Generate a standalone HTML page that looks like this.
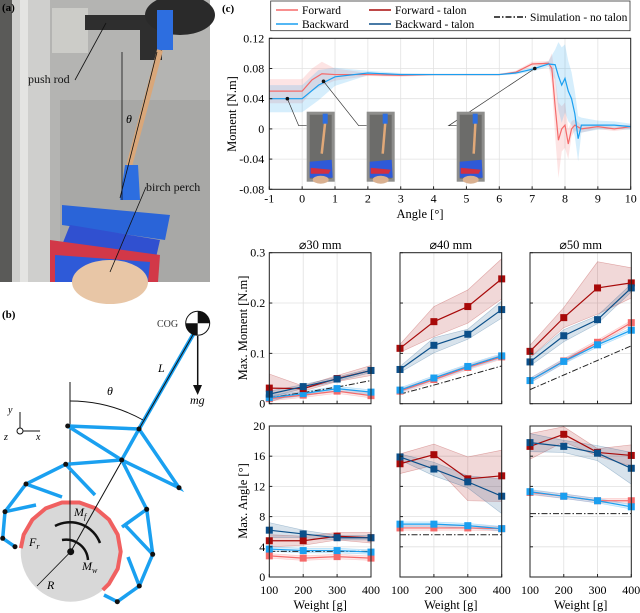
<!DOCTYPE html>
<html><head><meta charset="utf-8"><style>
html,body{margin:0;padding:0;background:#fff;}
svg{display:block;font-family:"Liberation Serif",serif;}
</style></head><body>
<svg id="fig" width="640" height="613" viewBox="0 0 640 613" xmlns="http://www.w3.org/2000/svg">
<!-- (a) photo approximation -->
<g>
<rect x="0" y="0" width="210" height="282" fill="#9c9c9a"/>
<rect x="50" y="0" width="160" height="282" fill="#b4b4b2"/>
<rect x="60" y="100" width="150" height="182" fill="#a8a8a6"/>
<rect x="0" y="0" width="12" height="282" fill="#5a5a58"/>
<rect x="12" y="0" width="38" height="282" fill="#cfcfcd"/>
<rect x="20" y="0" width="8" height="282" fill="#e4e4e2"/>
<rect x="52" y="8" width="36" height="45" fill="#ccccc8"/>
<rect x="85" y="15" width="70" height="15" fill="#2e2e2e"/>
<rect x="140" y="15" width="22" height="45" fill="#2e2e2e"/>
<ellipse cx="180" cy="15" rx="35" ry="20" fill="#2a2a2a"/>
<rect x="157" y="10" width="16" height="40" fill="#2d6ee0"/>
<line x1="160" y1="50" x2="128" y2="170" stroke="#d9a77a" stroke-width="6"/>
<path d="M125 165 L138 165 L140 200 L120 200 Z" fill="#2d6ee0"/>
<path d="M62 205 L170 215 L165 240 L62 225 Z" fill="#2a64d8"/>
<path d="M70 225 L160 240 L155 262 L60 250 Z" fill="#3050d0"/>
<path d="M50 240 L160 255 L158 282 L50 282 Z" fill="#d23848"/>
<path d="M55 255 L150 262 L148 282 L55 282 Z" fill="#2e5ad8"/>
<ellipse cx="110" cy="282" rx="38" ry="22" fill="#e8c6a6"/>
<line x1="122" y1="52" x2="122" y2="200" stroke="#111" stroke-width="0.8"/>
<line x1="157" y1="52" x2="120" y2="198" stroke="#111" stroke-width="0.8"/>
<text x="2" y="11" font-size="11" font-weight="bold">(a)</text>
<text x="28" y="83" font-size="12" fill="#111">push rod</text>
<line x1="75" y1="80" x2="106" y2="23" stroke="#111" stroke-width="0.8"/>
<text x="126" y="123" font-size="12" font-style="italic">θ</text>
<text x="146" y="191" font-size="12" fill="#111">birch perch</text>
<line x1="146" y1="187" x2="110" y2="272" stroke="#111" stroke-width="0.8"/>
</g>
<!-- (b) diagram -->
<g>
<text x="2" y="318" font-size="11" font-weight="bold">(b)</text>
<circle cx="70.7" cy="551.7" r="50" fill="#d8d8d8"/>
<polyline points="20.8,548.2 23.7,534.6 32.4,519.6 45.7,508.4 62.0,502.5 79.4,502.5 95.7,508.4 109.0,519.6 117.7,534.6 120.7,551.7 117.7,568.8 109.0,583.8 102.8,590.0" fill="none" stroke="#f06060" stroke-width="4" stroke-linejoin="round"/>
<line x1="70" y1="382" x2="70" y2="552" stroke="#111" stroke-width="1"/>
<line x1="70.7" y1="551.7" x2="194" y2="333" stroke="#111" stroke-width="1"/>
<line x1="139" y1="429" x2="194" y2="333" stroke="#1aa0f0" stroke-width="4"/>
<line x1="139" y1="429" x2="194" y2="333" stroke="#111" stroke-width="1"/>
<path d="M70 401 A150 150 0 0 1 143 420" fill="none" stroke="#111"/>
<g stroke="#1aa0f0" stroke-width="3.5" fill="none">
<polyline points="67.7,426 139,429 179,487.7 121.7,460 67.7,426"/>
<polyline points="139,429 121.7,460 65.7,464.3 26,484 5,511.7 2.7,538.3 15,546.7"/>
<polyline points="121.7,460 146.7,509.3 152.7,554.3 139.3,586 117.3,601.7"/>
<polyline points="26,484 62,497"/><polyline points="5,511.7 36,505"/>
<polyline points="65.7,464.3 95,495"/><polyline points="146.7,509.3 122,527"/>
<polyline points="152.7,554.3 125,525"/><polyline points="139.3,586 128,557"/>
<polyline points="117.3,601.7 104,595"/>
</g>
<g fill="#111">
<circle cx="67.7" cy="426" r="2.5"/><circle cx="139" cy="429" r="2.5"/><circle cx="121.7" cy="460" r="2.5"/><circle cx="65.7" cy="464.3" r="2.5"/><circle cx="179" cy="487.7" r="2.5"/><circle cx="26" cy="484" r="2.5"/><circle cx="146.7" cy="509.3" r="2.5"/><circle cx="5" cy="511.7" r="2.5"/><circle cx="152.7" cy="554.3" r="2.5"/><circle cx="2.7" cy="538.3" r="2.5"/><circle cx="15" cy="546.7" r="2.5"/><circle cx="139.3" cy="586" r="2.5"/><circle cx="117.3" cy="601.7" r="2.5"/><circle cx="70.7" cy="551.7" r="3.5"/>
</g>
<path d="M100 543 A32 32 0 0 0 55 526" fill="none" stroke="#111" stroke-width="2.5"/>
<path d="M62 540 A22 22 0 0 1 88 560" fill="none" stroke="#111" stroke-width="2.5"/>
<line x1="70.7" y1="551.7" x2="37" y2="586" stroke="#111" stroke-width="0.8"/>
<circle cx="197.7" cy="323.3" r="12" fill="#fff" stroke="#111"/>
<path d="M197.7 311.3 A12 12 0 0 1 209.7 323.3 L197.7 323.3Z M197.7 335.3 A12 12 0 0 1 185.7 323.3 L197.7 323.3Z" fill="#111"/>
<line x1="197.7" y1="336" x2="197.7" y2="392" stroke="#111" stroke-width="1.5"/>
<path d="M193 385 L202 385 L197.7 395Z" fill="#111"/>
<text x="157" y="327" font-size="10" fill="#333">COG</text>
<text x="158" y="372" font-size="12" font-style="italic">L</text>
<text x="107" y="395" font-size="12" font-style="italic">θ</text>
<text x="190" y="404" font-size="12" font-style="italic">mg</text>
<text x="74" y="516" font-size="12" font-style="italic">M<tspan font-size="8" dy="3">f</tspan></text>
<text x="29" y="546" font-size="12" font-style="italic">F<tspan font-size="8" dy="3">r</tspan></text>
<text x="82" y="570" font-size="12" font-style="italic">M<tspan font-size="8" dy="3">w</tspan></text>
<text x="47" y="589" font-size="12" font-style="italic">R</text>
<text x="8" y="413" font-size="10" font-style="italic">y</text><text x="4" y="440" font-size="10" font-style="italic">z</text><text x="36" y="440" font-size="10" font-style="italic">x</text>
<line x1="20" y1="431" x2="20" y2="412" stroke="#111"/><line x1="20" y1="431" x2="40" y2="431" stroke="#111"/>
<circle cx="20" cy="431" r="3" fill="#fff" stroke="#111"/>
</g>
<g id="chartc"></g>
<g id="small"></g>
</svg>
<script>
// ---- Top chart data ----
const fwdAngle = [-1,0,0.3,0.6,1,2,3,4,5,6,6.5,7,7.5,7.6,7.7,7.8,7.9,8.0,8.1,8.2,8.3,8.5,9,9.5,10];
const fwdMoment = [0.05,0.05,0.065,0.073,0.072,0.072,0.071,0.072,0.072,0.072,0.075,0.086,0.087,0.08,0.03,-0.015,0.0,0.005,-0.02,0.0,0.005,0.0,0.003,0.0,0.003];
const fwdSpread = [0.016,0.016,0.015,0.016,0.008,0.002,0.002,0.001,0.001,0.001,0.002,0.003,0.003,0.02,0.04,0.05,0.03,0.03,0.02,0.01,0.008,0.005,0.003,0.003,0.003];
const bwdAngle = [-1,0,0.5,1,2,3,4,5,6,6.5,7,7.5,7.7,7.8,7.9,8.0,8.1,8.2,8.3,8.4,8.5,9,9.5,10];
const bwdMoment = [0.04,0.04,0.058,0.069,0.074,0.072,0.072,0.072,0.072,0.074,0.079,0.086,0.085,0.07,0.058,0.067,0.05,0.04,0.02,-0.013,0.005,0.005,0.005,0.003];
const bwdSpread = [0.018,0.018,0.02,0.012,0.003,0.002,0.001,0.001,0.001,0.002,0.003,0.004,0.02,0.045,0.05,0.045,0.04,0.035,0.03,0.03,0.01,0.006,0.005,0.004];
const topXTicks = [-1,0,1,2,3,4,5,6,7,8,9,10];
const topYTicks = [-0.08,-0.04,0,0.04,0.08,0.12];
const topYLabels = ['-0.08','-0.04','0','0.04','0.08','0.12'];

// ---- Small multiples data ----
const weights = [100,200,300,400];
const panelTitles = ['⌀30 mm','⌀40 mm','⌀50 mm'];
const momentTicks = [0,0.1,0.2,0.3];
const angleTicks = [0,4,8,12,16,20];
const momFwd = [[0.010,0.017,0.025,0.016],[0.025,0.048,0.072,0.093],[0.046,0.085,0.122,0.161]];
const momBwd = [[0.012,0.020,0.030,0.023],[0.027,0.051,0.074,0.095],[0.046,0.084,0.117,0.146]];
const momFwdT = [[0.031,0.030,0.050,0.066],[0.110,0.163,0.193,0.248],[0.104,0.171,0.230,0.240]];
const momBwdT = [[0.019,0.034,0.049,0.066],[0.068,0.116,0.138,0.187],[0.083,0.135,0.167,0.230]];
const momSim = [[0.012,0.022,0.033,0.046],[0.019,0.037,0.056,0.075],[0.028,0.057,0.086,0.115]];
const momFwdTSpread = [[0.028,0.005,0.006,0.01],[0.008,0.03,0.033,0.04],[0.012,0.02,0.052,0.03]];
const momBwdTSpread = [[0.006,0.004,0.004,0.004],[0.006,0.015,0.01,0.017],[0.008,0.012,0.008,0.008]];
const angFwd = [[2.8,2.5,2.7,2.5],[6.5,6.5,6.5,6.4],[11.2,10.7,10.1,10.1]];
const angBwd = [[3.7,3.5,3.5,3.3],[7.0,7.0,6.8,6.4],[11.3,10.7,10.1,9.3]];
const angFwdT = [[4.8,4.8,5.4,5.2],[15.0,16.2,13.0,13.4],[17.3,18.9,16.5,16.1]];
const angBwdT = [[6.2,5.7,5.2,5.2],[15.9,14.3,12.6,10.7],[17.8,17.3,16.4,14.4]];
const angSim = [3.4,5.6,8.4];
const angFwdTSpread = [[0.8,0.6,0.5,0.7],[1.3,1.4,2.9,3.4],[1.7,1.0,0.5,1.4]];
const angBwdTSpread = [[1.0,0.5,0.3,0.3],[0.4,0.9,0.8,2.3],[1.2,0.8,1.0,2.1]];

const C = {fwd:'#f56a6a', bwd:'#1a9ff0', fwdT:'#a80a0a', bwdT:'#0b4f89'};
const NS = 'http://www.w3.org/2000/svg';
function mk(parent, tag, attrs, text){
  const e = document.createElementNS(NS, tag);
  for (const k in attrs) e.setAttribute(k, attrs[k]);
  if (text !== undefined) e.textContent = text;
  parent.appendChild(e); return e;
}

// ---- Top chart ----
(function(){
  const g = document.getElementById('chartc');
  const L=269.3,R=630.7,T=38.3,B=189.3;
  const sx = a => L + (a+1)/11*(R-L);
  const sy = m => B - (m+0.08)/0.2*(B-T);
  let t = mk(g,'text',{x:222,y:12,'font-size':11,'font-weight':'bold'},'(c)');
  
  
  const lg = mk(g,'g',{});
  
  
  mk(lg,'rect',{x:270.7,y:1,width:359.3,height:29.7,fill:'#fff',stroke:'#333','stroke-width':0.8});
  const items=[[276,10,C.fwd,'Forward','legend-forward',null],[276,24,C.bwd,'Backward','legend-backward',null],[369,10,C.fwdT,'Forward - talon','legend-forward-talon',null],[369,24,C.bwdT,'Backward - talon','legend-backward-talon',null],[494,17,'#111','Simulation - no talon','legend-simulation','6,2,1.5,2']];
  function losLen(it){return it[4]==='legend-simulation'?32:22;}
  items.forEach(it=>{
    const ig = mk(lg,'g',{});
    
    
    const la={x1:it[0],y1:it[1],x2:it[0]+losLen(it),y2:it[1],stroke:it[2],'stroke-width':1.5};
    if(it[5]) la['stroke-dasharray']=it[5];
    mk(ig,'line',la);
    mk(ig,'text',{x:it[0]+losLen(it)+4,y:it[1]+4,'font-size':11.5},it[3]);
  });
  topXTicks.forEach(v=>{mk(g,'line',{x1:sx(v),y1:T,x2:sx(v),y2:B,stroke:'#e2e2e2','stroke-width':0.8});});
  topYTicks.forEach(v=>{mk(g,'line',{x1:L,y1:sy(v),x2:R,y2:sy(v),stroke:'#e2e2e2','stroke-width':0.8});});
  function band(xs,ys,sp,col,name){
    let d='M'+xs.map((a,i)=>sx(a)+','+sy(ys[i]+sp[i])).join(' L');
    for(let i=xs.length-1;i>=0;i--) d+=' L'+sx(xs[i])+','+sy(ys[i]-sp[i]);
    const p=mk(g,'path',{d:d+'Z',fill:col,'fill-opacity':0.18,stroke:'none'});
    
    
  }
  function line(xs,ys,col,name){
    const p=mk(g,'polyline',{points:xs.map((a,i)=>sx(a)+','+sy(ys[i])).join(' '),fill:'none',stroke:col,'stroke-width':1.2});
    
    
  }
  band(fwdAngle,fwdMoment,fwdSpread,C.fwd,'forward-band');
  band(bwdAngle,bwdMoment,bwdSpread,C.bwd,'backward-band');
  line(fwdAngle,fwdMoment,C.fwd,'forward-line');
  line(bwdAngle,bwdMoment,C.bwd,'backward-line');
  const insets=[[306.7,-0.45,0.04],[366.7,0.65,0.063],[456.7,7.08,0.08]];
  insets.forEach((s,i)=>{
    const ig=mk(g,'g',{});
    
    
    const x=s[0],y=111.7,w=28,h=70;
    mk(ig,'polyline',{points:`${sx(s[1])},${sy(s[2])} ${x-8},${y+14} ${x},${y+14}`,fill:'none',stroke:'#333','stroke-width':0.7});
    mk(ig,'circle',{cx:sx(s[1]),cy:sy(s[2]),r:1.8,fill:'#111'});
    mk(ig,'rect',{x:x,y:y,width:w,height:h,fill:'#8e8e8c'});
    mk(ig,'rect',{x:x+3,y:y+3,width:w-6,height:h-6,fill:'#6c6c6a'});
    mk(ig,'line',{x1:x+19,y1:y+6,x2:x+15+i,y2:y+42,stroke:'#e0a878','stroke-width':2.5});
    mk(ig,'rect',{x:x+16,y:y+2,width:5,height:10,fill:'#2d6ee0'});
    mk(ig,'path',{d:`M${x+3} ${y+50} L${x+w-3} ${y+48} L${x+w-2} ${y+h-4} L${x+3} ${y+h-4}Z`,fill:'#2f5ad8'});
    mk(ig,'path',{d:`M${x+4} ${y+56} L${x+w-4} ${y+58} L${x+w-6} ${y+62} L${x+4} ${y+62}Z`,fill:'#d23040'});
    mk(ig,'ellipse',{cx:x+w/2,cy:y+h-2,rx:8,ry:4,fill:'#d9b090'});
  });
  mk(g,'rect',{x:L,y:T,width:R-L,height:B-T,fill:'none',stroke:'#222','stroke-width':1});
  topXTicks.forEach(v=>{
    mk(g,'line',{x1:sx(v),y1:B,x2:sx(v),y2:B-3,stroke:'#222'});
    mk(g,'text',{x:sx(v),y:B+13,'font-size':12,'text-anchor':'middle'},String(v));
  });
  topYTicks.forEach((v,i)=>{
    mk(g,'line',{x1:L,y1:sy(v),x2:L+3,y2:sy(v),stroke:'#222'});
    mk(g,'text',{x:L-5,y:sy(v)+4,'font-size':12,'text-anchor':'end'},topYLabels[i]);
  });
  t=mk(g,'text',{x:420,y:218,'font-size':12.5,'text-anchor':'middle'},'Angle [°]');
  
  
  t=mk(g,'text',{x:0,y:0,'font-size':12.5,'text-anchor':'middle',transform:'translate(236,114) rotate(-90)'},'Moment [N.m]');
  
  
})();

// ---- Small multiples ----
(function(){
  const g=document.getElementById('small');
  const panelsX=[[269.3,371],[400,501.7],[530,631.3]];
  const rows=[{T:252.7,B:403.7,max:0.3,ticks:momentTicks,labels:['0','0.1','0.2','0.3'],name:'moment'},
              {T:426,B:577,max:20,ticks:angleTicks,labels:angleTicks.map(String),name:'angle'}];
  rows.forEach((row,ri)=>{
    panelsX.forEach((px,pi)=>{
      const pg=mk(g,'g',{});
      
      
      const L=px[0],R=px[1],T=row.T,B=row.B;
      const sx=w=>L+(w-100)/300*(R-L);
      const sy=v=>B-v/row.max*(B-T);
      weights.forEach(w=>mk(pg,'line',{x1:sx(w),y1:T,x2:sx(w),y2:B,stroke:'#e0e0e0','stroke-width':0.8}));
      row.ticks.forEach(v=>mk(pg,'line',{x1:L,y1:sy(v),x2:R,y2:sy(v),stroke:'#e0e0e0','stroke-width':0.8}));
      let fw,bw,fwT,bwT,fsp,bsp;
      if(ri===0){fw=momFwd[pi];bw=momBwd[pi];fwT=momFwdT[pi];bwT=momBwdT[pi];fsp=momFwdTSpread[pi];bsp=momBwdTSpread[pi];}
      else{fw=angFwd[pi];bw=angBwd[pi];fwT=angFwdT[pi];bwT=angBwdT[pi];fsp=angFwdTSpread[pi];bsp=angBwdTSpread[pi];}
      function band(ys,sp,col,name){
        let d='M'+weights.map((w,i)=>sx(w)+','+sy(ys[i]+sp[i])).join(' L');
        for(let i=3;i>=0;i--) d+=' L'+sx(weights[i])+','+sy(Math.max(0,ys[i]-sp[i]));
        const p=mk(pg,'path',{d:d+'Z',fill:col,'fill-opacity':0.16,stroke:col,'stroke-opacity':0.3,'stroke-width':0.6});
        
        
      }
      band(fwT,fsp,C.fwdT,'forward-talon-band');
      band(bwT,bsp,C.bwdT,'backward-talon-band');
      band(fw,fw.map(v=>row.max*0.015),C.fwd,'forward-band');
      band(bw,bw.map(v=>row.max*0.015),C.bwd,'backward-band');
      let simY = ri===0 ? momSim[pi] : weights.map(()=>angSim[pi]);
      let sp=mk(pg,'polyline',{points:weights.map((w,i)=>sx(w)+','+sy(simY[i])).join(' '),fill:'none',stroke:'#222','stroke-width':1,'stroke-dasharray':'6,2,1.5,2'});
      
      
      [[fw,C.fwd,'forward'],[bw,C.bwd,'backward'],[fwT,C.fwdT,'forward-talon'],[bwT,C.bwdT,'backward-talon']].forEach(s=>{
        const l=mk(pg,'polyline',{points:weights.map((w,i)=>sx(w)+','+sy(s[0][i])).join(' '),fill:'none',stroke:s[1],'stroke-width':1.2});
        
        
        weights.forEach((w,i)=>{
          const m=mk(pg,'rect',{x:sx(w)-3.5,y:sy(s[0][i])-3.5,width:7,height:7,fill:s[1]});
          
          
        });
      });
      mk(pg,'rect',{x:L,y:T,width:R-L,height:B-T,fill:'none',stroke:'#222','stroke-width':1});
      weights.forEach(w=>mk(pg,'line',{x1:sx(w),y1:B,x2:sx(w),y2:B-3,stroke:'#222'}));
      row.ticks.forEach(v=>mk(pg,'line',{x1:L,y1:sy(v),x2:L+3,y2:sy(v),stroke:'#222'}));
      if(pi===0){
        row.ticks.forEach((v,i)=>mk(pg,'text',{x:L-4,y:sy(v)+4,'font-size':12,'text-anchor':'end'},row.labels[i]));
      }
      if(ri===0){
        const tt=mk(pg,'text',{x:(L+R)/2,y:249,'font-size':12.5,'text-anchor':'middle'},panelTitles[pi]);
        
        
      } else {
        weights.forEach(w=>mk(pg,'text',{x:sx(w),y:594,'font-size':12,'text-anchor':'middle'},String(w)));
        const xt=mk(pg,'text',{x:(L+R)/2,y:609,'font-size':12.5,'text-anchor':'middle'},'Weight [g]');
        
        
      }
    });
  });
  let t=mk(g,'text',{x:0,y:0,'font-size':12.5,'text-anchor':'middle',transform:'translate(247,328) rotate(-90)'},'Max. Moment [N.m]');
  
  
  t=mk(g,'text',{x:0,y:0,'font-size':12.5,'text-anchor':'middle',transform:'translate(247,501) rotate(-90)'},'Max. Angle [°]');
  
  
})();
</script>
</body></html>
